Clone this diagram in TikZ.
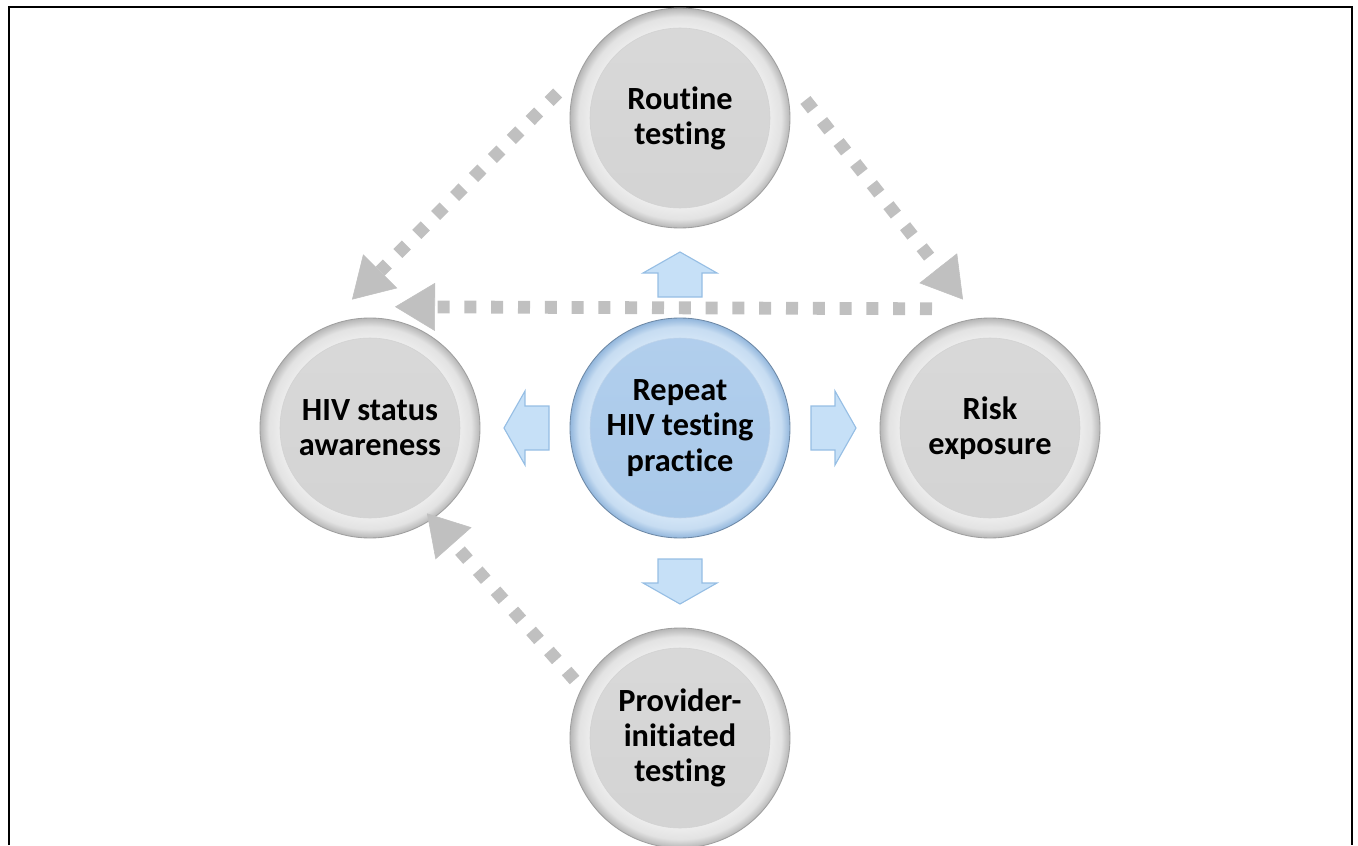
\documentclass[tikz,border=0pt]{standalone}
\usepackage{fontspec}
\setmainfont{Carlito}[Ligatures=NoCommon]
\usetikzlibrary{arrows.meta}
\definecolor{hivGrey}{RGB}{211,211,211}
\definecolor{hivGreyTop}{RGB}{217,217,217}
\definecolor{hivRim}{RGB}{238,238,238}
\definecolor{hivRimEdge}{RGB}{182,182,182}
\definecolor{hivBlue}{RGB}{168,200,233}
\definecolor{hivBlueTop}{RGB}{178,207,237}
\definecolor{hivBlueRim}{RGB}{212,230,247}
\definecolor{hivBlueEdge}{RGB}{146,182,220}
\definecolor{hivArrow}{RGB}{198,224,247}
\definecolor{hivArrowEdge}{RGB}{150,190,228}
\definecolor{hivDots}{RGB}{192,192,192}
% rim of the balls: flat inside, darker towards the edge
\pgfdeclareradialshading{greyrim}{\pgfpoint{0bp}{0bp}}{%
  color(0bp)=(hivRim); color(20bp)=(hivRim); color(23bp)=(hivRim!80!hivRimEdge);
  color(25bp)=(hivRimEdge); color(50bp)=(hivRimEdge)}
\pgfdeclareradialshading{bluerim}{\pgfpoint{0bp}{0bp}}{%
  color(0bp)=(hivBlueRim); color(20bp)=(hivBlueRim); color(23bp)=(hivBlueRim!80!hivBlueEdge);
  color(25bp)=(hivBlueEdge); color(50bp)=(hivBlueEdge)}

\begin{document}
\begin{tikzpicture}[
    ball/.style={circle, minimum size=5.5cm, inner sep=0pt, align=center,
                 font=\fontsize{23}{25}\selectfont\bfseries, line width=0.6pt},
    greyball/.style={ball, shading=greyrim, draw=gray!75,
                 path picture={\shade[top color=hivGreyTop, bottom color=hivGrey,
                   draw=gray!35, line width=0.4pt]
                   (path picture bounding box.center) circle (2.25cm);}},
    blueball/.style={ball, shading=bluerim, draw=hivBlueEdge!75!black,
                 path picture={\shade[top color=hivBlueTop, bottom color=hivBlue,
                   draw=hivBlueEdge!60, line width=0.4pt]
                   (path picture bounding box.center) circle (2.25cm);}},
    dotline/.style={draw=hivDots, line width=0.32cm, dash pattern=on 0.3cm off 0.37cm,
                 -{Triangle[length=1cm, width=1.2cm, line width=0.4pt]}},
    blockarrow/.style={fill=hivArrow, draw=hivArrowEdge, line width=0.8pt, line join=miter}
  ]
  \useasboundingbox (-17,-10.425) rectangle (16.95,10.7);
  % frame, open at the bottom
  \draw[line width=1.8pt] (-16.775,-10.425) |- (16.8,10.525) -- (16.8,-10.425);

  \node[blueball] (hub) at (0,0) {Repeat\\HIV testing\\practice};
  \node[greyball] (routine)   at (0,7.75)   {Routine\\testing};
  \node[greyball] (awareness) at (-7.75,0)  {HIV status\\awareness};
  \node[greyball] (risk)      at (7.75,0)   {Risk\\exposure};
  \node[greyball] (provider)  at (0,-7.75)  {Provider-\\initiated\\testing};

  % block arrows out of the hub
  \foreach \ang in {0,90,180,270}
    \draw[blockarrow, rotate=\ang] (-0.55,3.275) -- (0.55,3.275) -- (0.55,3.875)
      -- (0.925,3.875) -- (0,4.4) -- (-0.925,3.875) -- (-0.55,3.875) -- cycle;

  % dotted links between the outer balls
  \draw[dotline] ([xshift=-0.3cm, yshift=0.625cm]routine.west)
    -- ([xshift=-0.45cm, yshift=0.45cm]awareness.north);
  \draw[dotline] ([xshift=0.375cm, yshift=0.45cm]routine.east)
    -- ([xshift=-0.675cm, yshift=0.45cm]risk.north);
  \draw[dotline] ([xshift=-1.45cm, yshift=0.22cm]risk.north)
    -- ([xshift=0.625cm, yshift=0.27cm]awareness.north);
  \draw[dotline] ([xshift=0.125cm, yshift=1.45cm]provider.west)
    -- ([xshift=1.425cm, yshift=0.625cm]awareness.south);
\end{tikzpicture}
\end{document}
